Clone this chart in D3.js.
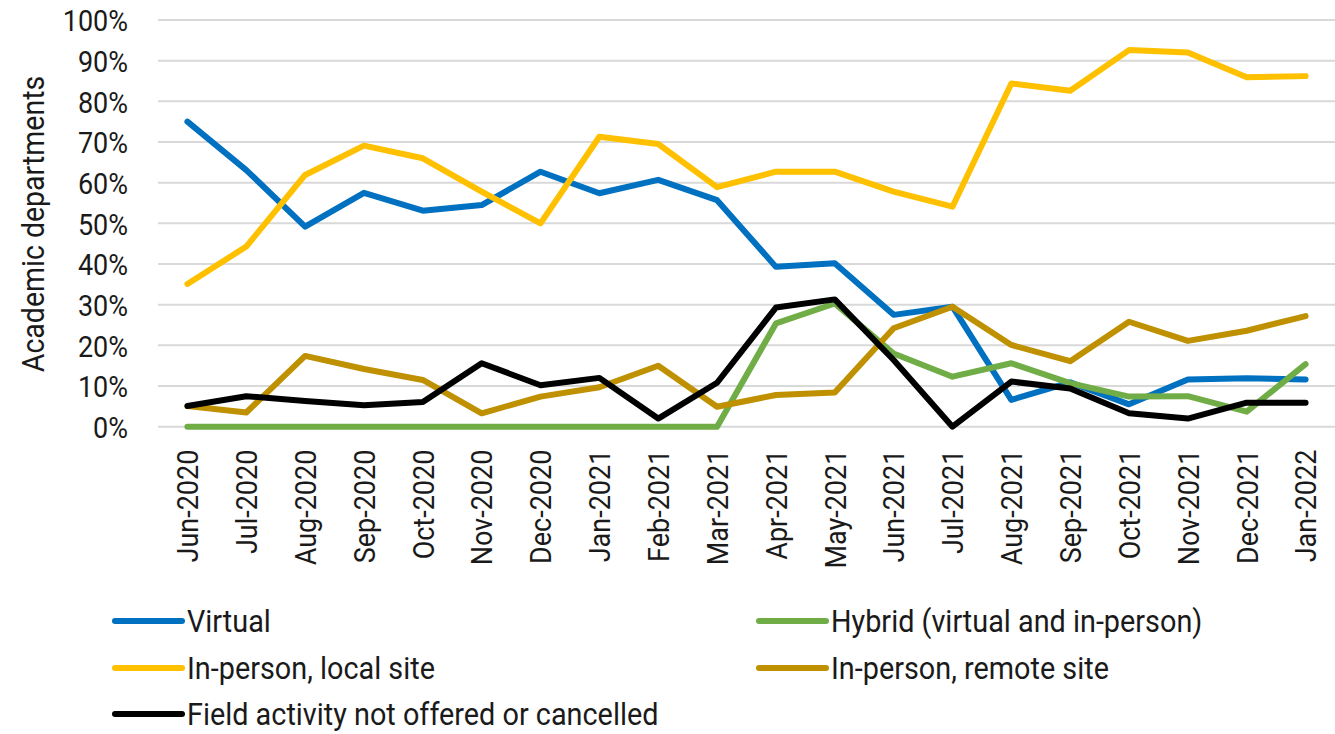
<!DOCTYPE html>
<html>
<head>
<meta charset="utf-8">
<script src="https://cdn.jsdelivr.net/npm/d3@7"></script>
<style>
  body { margin: 0; background: #fff; }
  text { font-family: Roboto, "Liberation Sans", sans-serif; fill: #1a1a1a; }
</style>
</head>
<body>
<div id="chart"></div>
<script>
// month categories
const months = ["Jun-2020","Jul-2020","Aug-2020","Sep-2020","Oct-2020","Nov-2020","Dec-2020",
  "Jan-2021","Feb-2021","Mar-2021","Apr-2021","May-2021","Jun-2021","Jul-2021","Aug-2021",
  "Sep-2021","Oct-2021","Nov-2021","Dec-2021","Jan-2022"];

// percent of academic departments
const virtual   = [75, 63.1, 49.2, 57.5, 53.1, 54.5, 62.7, 57.4, 60.7, 55.7, 39.3, 40.2, 27.5, 29.5, 6.6, 10.9, 5.5, 11.6, 11.9, 11.6];
const hybrid    = [0, 0, 0, 0, 0, 0, 0, 0, 0, 0, 25.4, 30.3, 18.0, 12.3, 15.6, 10.7, 7.4, 7.5, 3.7, 15.4];
const localSite = [35.1, 44.3, 61.9, 69.1, 66.0, 57.8, 50.0, 71.3, 69.5, 58.9, 62.7, 62.7, 57.8, 54.1, 84.4, 82.6, 92.6, 92.0, 85.9, 86.2];
const remote    = [5.1, 3.5, 17.4, 14.2, 11.5, 3.3, 7.4, 9.7, 15.0, 4.9, 7.8, 8.4, 24.2, 29.5, 20.1, 16.1, 25.8, 21.1, 23.6, 27.2];
const cancelled = [5.1, 7.5, 6.3, 5.3, 6.1, 15.6, 10.2, 12.0, 2.0, 10.8, 29.3, 31.3, 16.4, 0, 11.1, 9.4, 3.3, 2.0, 5.9, 5.9];

const yTicks = [0, 10, 20, 30, 40, 50, 60, 70, 80, 90, 100];

const seriesNames  = ["Virtual", "Hybrid (virtual and in-person)", "In-person, local site",
  "In-person, remote site", "Field activity not offered or cancelled"];
const seriesValues = [virtual, hybrid, localSite, remote, cancelled];
const colors = ["#0070C0", "#70AD47", "#FFC000", "#BF9000", "#000000"];

const width = 1335, height = 734;
const squeeze = 0.9;   // the original font is a condensed face
const fs = 30;

const svg = d3.select("#chart").append("svg")
  .attr("width", width)
  .attr("height", height);

const x = d3.scaleBand().domain(months).range([158, 1335]);
const y = d3.scaleLinear().domain([0, 100]).range([426.7, 20]);
const cx = d => x(d) + x.bandwidth() / 2;

// gridlines
svg.append("g").selectAll("line")
  .data(yTicks)
  .enter().append("line")
  .attr("x1", 158).attr("x2", 1335)
  .attr("y1", d => y(d)).attr("y2", d => y(d))
  .attr("stroke", "#d9d9d9")
  .attr("stroke-width", 2);

// y axis
const yAxisG = svg.append("g")
  .attr("transform", "translate(158,0)")
  .call(d3.axisLeft(y).tickValues(yTicks).tickSize(0).tickFormat(d => d + "%"));
yAxisG.select(".domain").remove();
yAxisG.selectAll("text")
  .attr("x", 0).attr("dy", "0.36em")
  .attr("transform", "translate(-30,0) scale(" + squeeze + ",1)")
  .style("font-size", fs + "px")
  .style("font-family", "Roboto")
  .attr("fill", "#1a1a1a");

// x axis
const xAxisG = svg.append("g")
  .attr("transform", "translate(0," + y(0) + ")")
  .call(d3.axisBottom(x).tickSize(0));
xAxisG.select(".domain").remove();
xAxisG.selectAll("text")
  .attr("x", 0).attr("y", 0).attr("dy", "0.36em")
  .attr("text-anchor", "end")
  .attr("transform", "translate(0,23) rotate(-90) scale(" + squeeze + ",1)")
  .style("font-size", fs + "px")
  .style("font-family", "Roboto")
  .attr("fill", "#1a1a1a");

// y title
svg.append("text")
  .attr("transform", "translate(44,224) rotate(-90) scale(0.92,1)")
  .attr("text-anchor", "middle")
  .style("font-size", "31px")
  .text("Academic departments");

// lines
const line = d3.line()
  .x((d, i) => cx(months[i]))
  .y(d => y(d));

svg.append("g").selectAll("path")
  .data(seriesValues)
  .enter().append("path")
  .attr("d", line)
  .attr("fill", "none")
  .attr("stroke", (d, i) => colors[i])
  .attr("stroke-width", 6)
  .attr("stroke-linejoin", "round")
  .attr("stroke-linecap", "round");

// legend, two columns
const legendPos = [[115, 621], [759, 621], [115, 668], [759, 668], [115, 714]];
const legend = svg.append("g").selectAll("g")
  .data(seriesNames)
  .enter().append("g")
  .attr("transform", (d, i) => "translate(" + legendPos[i][0] + "," + legendPos[i][1] + ")");

legend.append("line")
  .attr("x1", 0).attr("x2", 67)
  .attr("stroke", (d, i) => colors[i])
  .attr("stroke-width", 6)
  .attr("stroke-linecap", "round");

legend.append("text")
  .attr("transform", "translate(72,0) scale(0.93,1)")
  .attr("dy", "0.35em")
  .style("font-size", "31px")
  .text(d => d);
</script>
</body>
</html>
